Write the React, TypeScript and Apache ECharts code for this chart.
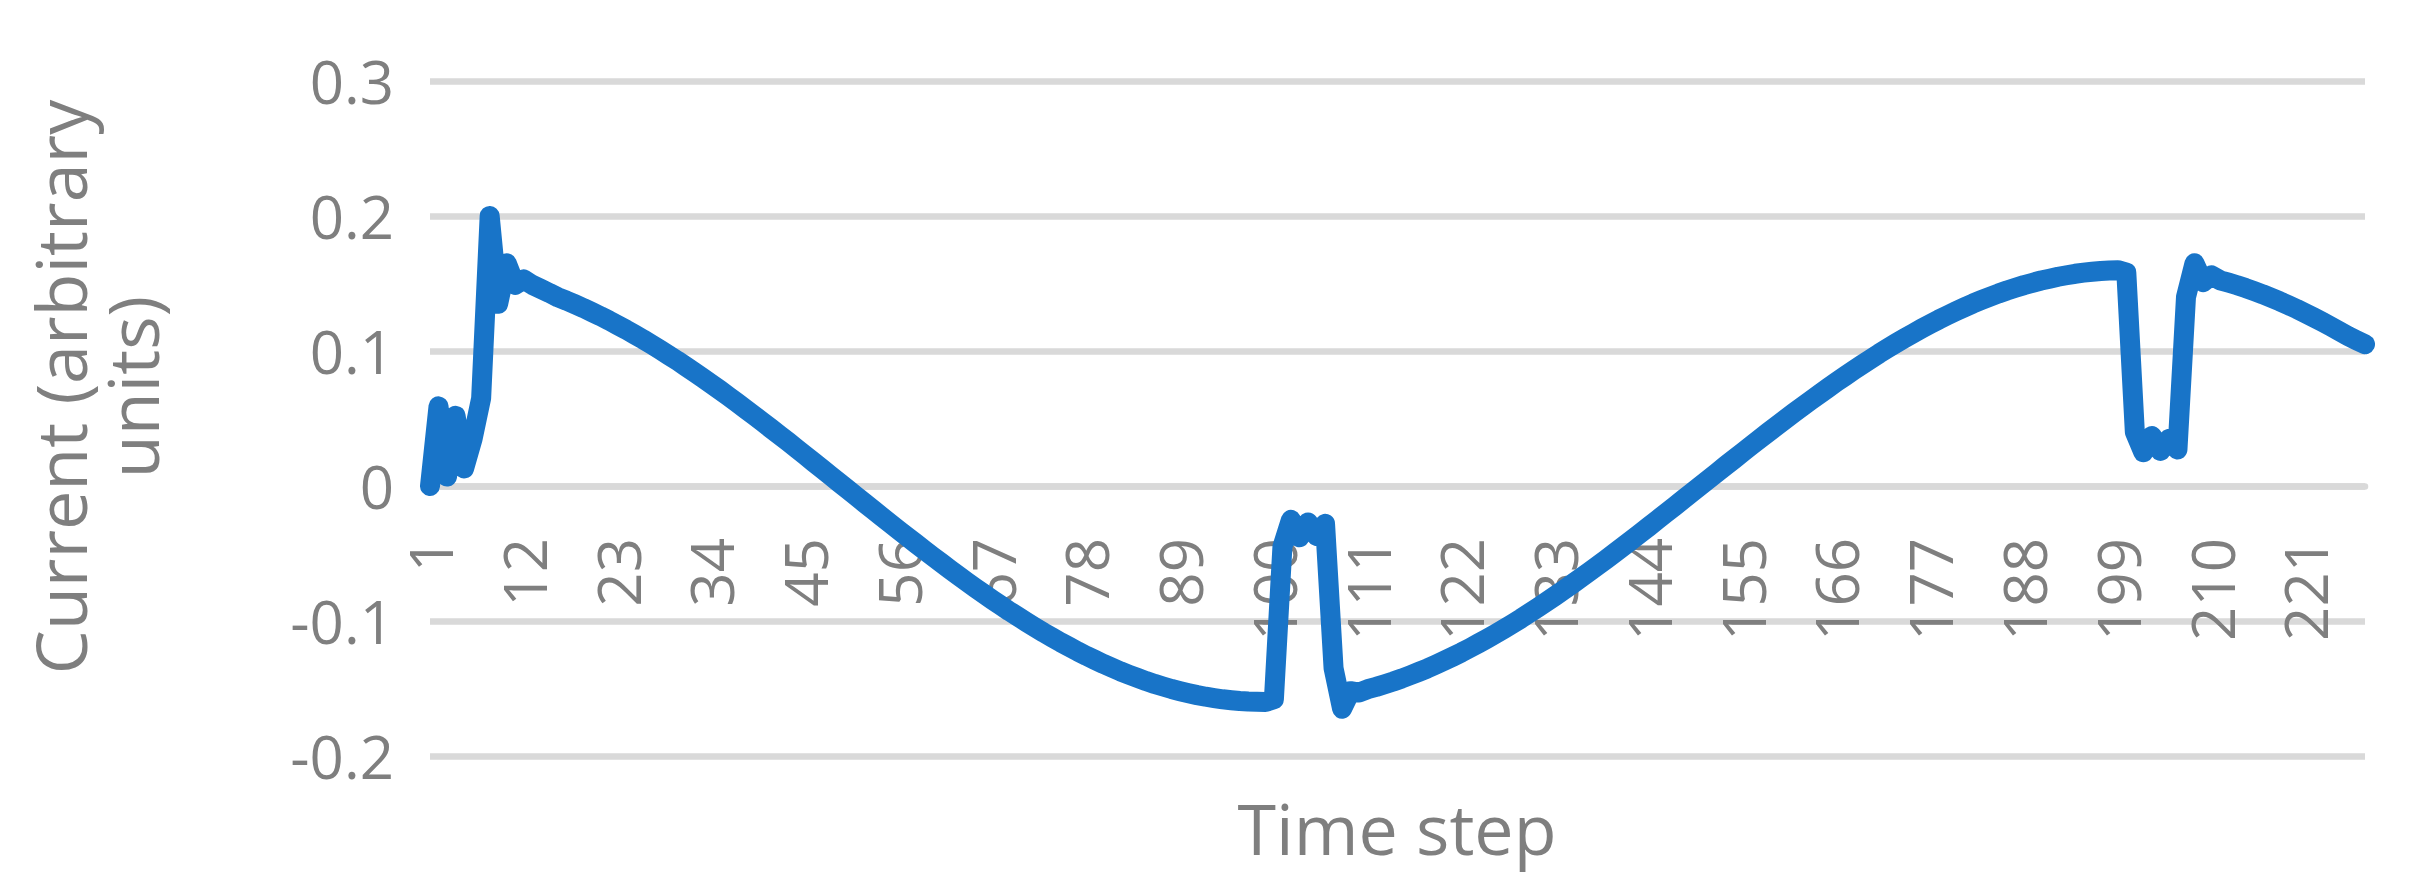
import React, { useEffect, useRef } from "react";
import * as echarts from "echarts";

// Time-step categories 1..228
const timeSteps: string[] = Array.from({ length: 228 }, (_, i) => String(i + 1));

// Current values (arbitrary units), split by segment
const startSegment = [0.0, 0.059, 0.007, 0.052, 0.013, 0.035, 0.065, 0.2, 0.135, 0.165, 0.149, 0.153, 0.149, 0.146, 0.143];

const fallSegment = [
  0.1398, 0.1373, 0.1346, 0.1318, 0.1288, 0.1258, 0.1226, 0.1192, 0.1158, 0.1122,
  0.1086, 0.1048, 0.1009, 0.0969, 0.0929, 0.0886, 0.0844, 0.08, 0.0756, 0.0711,
  0.0665, 0.0618, 0.0571, 0.0523, 0.0475, 0.0426, 0.0377, 0.0328, 0.0278, 0.0228,
  0.0177, 0.0127, 0.0076, 0.0025, -0.0025, -0.0076, -0.0127, -0.0177, -0.0228, -0.0278,
  -0.0328, -0.0377, -0.0426, -0.0475, -0.0523, -0.0571, -0.0618, -0.0665, -0.0711, -0.0756,
  -0.08, -0.0844, -0.0886, -0.0929, -0.0969, -0.1009, -0.1048, -0.1086, -0.1122, -0.1158,
  -0.1192, -0.1226, -0.1258, -0.1288, -0.1318, -0.1346, -0.1373, -0.1398, -0.1422, -0.1445,
  -0.1466, -0.1485, -0.1504, -0.152, -0.1535, -0.1549, -0.1561, -0.1571, -0.158, -0.1587,
  -0.1593, -0.1597, -0.1599, -0.16,
];

const firstDip = [-0.158, -0.045, -0.025, -0.038, -0.027, -0.037, -0.028, -0.135, -0.165, -0.152, -0.153];

const riseSegment = [
  -0.1505, -0.1488, -0.1468, -0.1448, -0.1426, -0.1402, -0.1377, -0.1351, -0.1323, -0.1294,
  -0.1264, -0.1233, -0.12, -0.1166, -0.1131, -0.1095, -0.1058, -0.102, -0.0981, -0.094,
  -0.0899, -0.0857, -0.0814, -0.0771, -0.0726, -0.0681, -0.0635, -0.0589, -0.0542, -0.0494,
  -0.0446, -0.0398, -0.0349, -0.03, -0.025, -0.02, -0.0151, -0.01, -0.005, 0.0,
  0.005, 0.01, 0.0151, 0.02, 0.025, 0.03, 0.0349, 0.0398, 0.0446, 0.0494,
  0.0542, 0.0589, 0.0635, 0.0681, 0.0726, 0.0771, 0.0814, 0.0857, 0.0899, 0.094,
  0.0981, 0.102, 0.1058, 0.1095, 0.1131, 0.1166, 0.12, 0.1233, 0.1264, 0.1294,
  0.1323, 0.1351, 0.1377, 0.1402, 0.1426, 0.1448, 0.1468, 0.1488, 0.1505, 0.1522,
  0.1536, 0.155, 0.1561, 0.1572, 0.158, 0.1587, 0.1593, 0.1597, 0.1599,
];

const secondDip = [0.158, 0.04, 0.025, 0.037, 0.026, 0.035, 0.027, 0.14, 0.165, 0.151, 0.156];

const tailSegment = [
  0.1524, 0.1506, 0.1487, 0.1466, 0.1443, 0.142, 0.1394, 0.1368, 0.134, 0.1311,
  0.128, 0.1248, 0.1215, 0.1181, 0.1146, 0.1111, 0.108, 0.105,
];

const currentValues = [
  ...startSegment,
  ...fallSegment,
  ...firstDip,
  ...riseSegment,
  ...secondDip,
  ...tailSegment,
];

const yTitle = "Current (arbitrary\nunits)";
const xTitle = "Time step";

const FONT = "'Open Sans', 'Noto Sans', sans-serif";
const GREY = "#7f7f7f";
const GRID_GREY = "#d9d9d9";

export default function App() {
  const ref = useRef<HTMLDivElement>(null);

  useEffect(() => {
    if (!ref.current) return;
    const chart = echarts.init(ref.current, undefined, { renderer: "svg" });
    chart.setOption({
      animation: false,
      backgroundColor: "#ffffff",
      textStyle: { fontFamily: FONT },
      grid: {
        left: 430,
        right: 55,
        top: 81,
        bottom: 130,
        containLabel: false,
        outerBoundsMode: "none",
      },
      xAxis: {
        type: "category",
        data: timeSteps,
        boundaryGap: false,
        position: "bottom",
        offset: -270,
        axisLine: { show: true, onZero: false, lineStyle: { color: GRID_GREY, width: 6.5 } },
        axisTick: { show: false },
        axisLabel: {
          interval: 10,
          rotate: 90,
          margin: 52,
          fontSize: 60,
          color: GREY,
          fontFamily: FONT,
        },
        splitLine: { show: false },
      },
      yAxis: {
        type: "value",
        min: -0.2,
        max: 0.3,
        interval: 0.1,
        axisLine: { show: false },
        axisTick: { show: false },
        axisLabel: {
          fontSize: 60,
          color: GREY,
          margin: 36,
          fontFamily: FONT,
          formatter: (v: number) => String(Math.round(v * 10) / 10),
        },
        splitLine: { show: true, lineStyle: { color: GRID_GREY, width: 6.5 } },
      },
      series: [
        {
          type: "line",
          data: currentValues,
          symbol: "none",
          smooth: false,
          z: 3,
          lineStyle: { color: "#1874c8", width: 20, cap: "round", join: "round" },
          itemStyle: { color: "#1874c8" },
        },
      ],
      graphic: [
        {
          type: "text",
          x: 96,
          y: 387,
          rotation: Math.PI / 2,
          style: {
            text: yTitle,
            fontSize: 70,
            fontFamily: FONT,
            fill: GREY,
            textAlign: "center",
            textVerticalAlign: "middle",
            lineHeight: 72,
          },
        },
        {
          type: "text",
          x: 1397,
          y: 828,
          style: {
            text: xTitle,
            fontSize: 70,
            fontFamily: FONT,
            fill: GREY,
            textAlign: "center",
            textVerticalAlign: "middle",
          },
        },
      ],
    });
    return () => chart.dispose();
  }, []);

  return (
    <div
      ref={ref}
      style={{ position: "fixed", left: 0, top: 0, width: 2420, height: 886, background: "#fff" }}
    />
  );
}
